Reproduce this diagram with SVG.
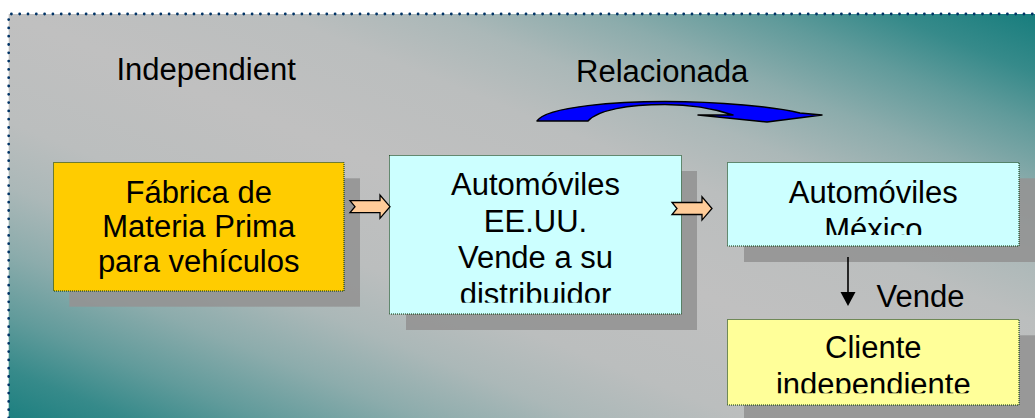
<svg xmlns="http://www.w3.org/2000/svg" width="1035" height="418" viewBox="0 0 1035 418">
  <style>
    .t { font-family: "Liberation Sans", Arial, sans-serif; font-size: 31px; fill: #000; text-anchor: middle; }
    .tl { font-family: "Liberation Sans", Arial, sans-serif; font-size: 31px; fill: #000; }
    .box { stroke: #003300; stroke-width: 1; stroke-dasharray: 1 1; }
    .shadow { fill: #939393; fill-opacity: 0.9; }
    .blk { fill: #ffcc99; stroke: #000; stroke-width: 1.3; stroke-linejoin: miter; }
  </style>
  <defs>
    <linearGradient id="bg" gradientUnits="userSpaceOnUse" x1="142.3" y1="-352.4" x2="-149.8" y2="370.9">
      <stop offset="0" stop-color="#147c7c"/>
      <stop offset="0.077" stop-color="#368a8a"/>
      <stop offset="0.141" stop-color="#619b9b"/>
      <stop offset="0.218" stop-color="#8cacac"/>
      <stop offset="0.295" stop-color="#abb8b8"/>
      <stop offset="0.372" stop-color="#bbbebe"/>
      <stop offset="0.5" stop-color="#c0c0c0"/>
      <stop offset="0.628" stop-color="#bbbebe"/>
      <stop offset="0.705" stop-color="#abb8b8"/>
      <stop offset="0.782" stop-color="#8cacac"/>
      <stop offset="0.859" stop-color="#619b9b"/>
      <stop offset="0.923" stop-color="#368a8a"/>
      <stop offset="1" stop-color="#147c7c"/>
    </linearGradient>
    <clipPath id="c2"><rect x="389" y="155" width="293" height="147.7"/></clipPath>
    <clipPath id="c3"><rect x="727" y="162" width="292" height="73"/></clipPath>
    <clipPath id="c4"><rect x="727" y="319" width="292" height="74.3"/></clipPath>
    <path id="blockArrow" d="M0,0 L30,0 L30,-5.7 L40,6 L30,17.6 L30,12 L0,12 L5,6 Z"/>
  </defs>

  <g id="background">
    <rect x="8.7" y="14" width="1040" height="420" fill="url(#bg)"/>
    <path d="M8.7,418 L8.7,14 L1035,14" fill="none" stroke="#003366" stroke-width="2.8" stroke-linecap="round" stroke-dasharray="0 8.3"/>
  </g>

  <g id="label-independient">
    <text class="tl" x="116.5" y="80">Independient</text>
  </g>
  <g id="label-relacionada">
    <text class="tl" x="576" y="81.7">Relacionada</text>
  </g>

  <g id="node-fabrica">
    <rect class="shadow" x="69.3" y="178.3" width="290.7" height="128.4"/>
    <rect class="box" x="53.5" y="162.5" width="290.5" height="128.5" fill="#ffcc00"/>
    <text class="t" x="198.7" y="202.5">Fábrica de</text>
    <text class="t" x="198.7" y="237">Materia Prima</text>
    <text class="t" x="198.7" y="271.5">para vehículos</text>
  </g>

  <g id="node-eeuu">
    <rect class="shadow" x="406" y="171" width="291" height="159"/>
    <rect class="box" x="389.5" y="155.5" width="292" height="158.5" fill="#ccffff"/>
    <g clip-path="url(#c2)">
      <text class="t" x="535.5" y="195">Automóviles</text>
      <text class="t" x="535.5" y="231.5">EE.UU.</text>
      <text class="t" x="535.5" y="268">Vende a su</text>
      <text class="t" x="535.5" y="304.5">distribuidor</text>
    </g>
  </g>

  <g id="node-mexico">
    <rect class="shadow" x="744" y="178.3" width="292" height="83.7"/>
    <rect class="box" x="727.5" y="162.5" width="291.5" height="83.5" fill="#ccffff"/>
    <g clip-path="url(#c3)">
      <text class="t" x="873.3" y="203.3">Automóviles</text>
      <text class="t" x="873.3" y="239.5">México</text>
    </g>
  </g>

  <g id="node-cliente">
    <rect class="shadow" x="744" y="335.3" width="292" height="90"/>
    <rect class="box" x="727.5" y="319.5" width="291.5" height="85.5" fill="#ffff99"/>
    <g clip-path="url(#c4)">
      <text class="t" x="873.3" y="358.3">Cliente</text>
      <text class="t" x="873.3" y="395">independiente</text>
    </g>
  </g>

  <g id="connectors">
    <path d="M537,121 C547,106 620,101.5 665,101.5 C720,101.5 775,107 800,113 L822,115 L767,122 L698,115 L733,115 C712,108 690,104.5 665,104.5 C628,104.5 598,110 588,121 Z" fill="#0000ff" stroke="#000" stroke-width="1.5" stroke-linejoin="round"/>
    <use href="#blockArrow" class="blk" x="350" y="200.7"/>
    <use href="#blockArrow" class="blk" x="672" y="202.5"/>
    <line x1="848" y1="257" x2="848" y2="293" stroke="#000" stroke-width="1.6"/>
    <polygon points="840.5,292 855.5,292 848,306" fill="#000"/>
    <text class="tl" x="876.5" y="306.7">Vende</text>
  </g>
</svg>
